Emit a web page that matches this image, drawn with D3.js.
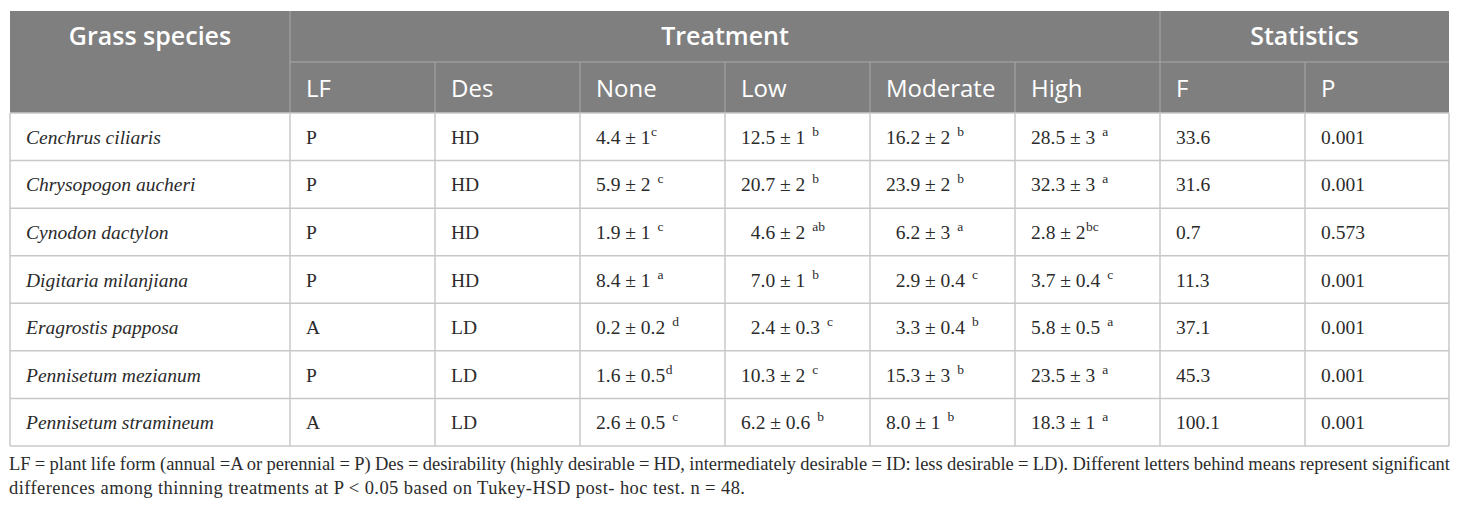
<!DOCTYPE html>
<html>
<head>
<meta charset="utf-8">
<script src="https://cdn.jsdelivr.net/npm/d3@7"></script>
<style>
  html, body { margin: 0; padding: 0; background: #fff; }
  svg { display: block; }
</style>
</head>
<body>
<div id="table"></div>
<script>
var species = ['Cenchrus ciliaris', 'Chrysopogon aucheri', 'Cynodon dactylon',
  'Digitaria milanjiana', 'Eragrostis papposa', 'Pennisetum mezianum', 'Pennisetum stramineum'];
var lifeForm = ['P', 'P', 'P', 'P', 'A', 'P', 'A'];
var desirability = ['HD', 'HD', 'HD', 'HD', 'LD', 'LD', 'LD'];

// mean ± se, and the Tukey letters (leading space kept as printed)
var noneMean = ['4.4 ± 1', '5.9 ± 2', '1.9 ± 1', '8.4 ± 1', '0.2 ± 0.2', '1.6 ± 0.5', '2.6 ± 0.5'];
var noneSig  = ['c', ' c', ' c', ' a', ' d', 'd', ' c'];
var lowMean  = ['12.5 ± 1', '20.7 ± 2', '  4.6 ± 2', '  7.0 ± 1', '  2.4 ± 0.3', '10.3 ± 2', '6.2 ± 0.6'];
var lowSig   = [' b', ' b', ' ab', ' b', ' c', ' c', ' b'];
var modMean  = ['16.2 ± 2', '23.9 ± 2', '  6.2 ± 3', '  2.9 ± 0.4', '  3.3 ± 0.4', '15.3 ± 3', '8.0 ± 1'];
var modSig   = [' b', ' b', ' a', ' c', ' b', ' b', ' b'];
var highMean = ['28.5 ± 3', '32.3 ± 3', '2.8 ± 2', '3.7 ± 0.4', '5.8 ± 0.5', '23.5 ± 3', '18.3 ± 1'];
var highSig  = [' a', ' a', 'bc', ' c', ' a', ' a', ' a'];
var fValue = ['33.6', '31.6', '0.7', '11.3', '37.1', '45.3', '100.1'];
var pValue = ['0.001', '0.001', '0.573', '0.001', '0.001', '0.001', '0.001'];

var groupHeads = ['Grass species', 'Treatment', 'Statistics'];
var subHeads = ['LF', 'Des', 'None', 'Low', 'Moderate', 'High', 'F', 'P'];

var captionLines = [
  'LF = plant life form (annual =A or perennial = P) Des = desirability (highly desirable = HD, intermediately desirable = ID: less desirable = LD). Different letters behind means represent significant',
  'differences among thinning treatments at P < 0.05 based on Tukey-HSD post- hoc test. n = 48.'
];

// ---- layout ----
var W = 1460, H = 511;
var left = 10, right = 1449;
var colEdges = [left, 290, 435, 580, 725, 870, 1015, 1160, 1305, right];
var headTop = 11, headMid = 62, headBottom = 113, tableBottom = 446;
var pad = 16;

var svg = d3.select('#table').append('svg')
  .attr('width', W).attr('height', H);

var y = d3.scaleBand()
  .domain(d3.range(species.length))
  .range([headBottom, tableBottom]);

// header background
svg.append('rect')
  .attr('x', left).attr('y', headTop)
  .attr('width', right - left).attr('height', headBottom - headTop)
  .attr('fill', '#7f7f7f');

// header separators
var headLine = '#a9a9a9';
svg.append('line')
  .attr('x1', colEdges[1]).attr('x2', right)
  .attr('y1', headMid).attr('y2', headMid)
  .attr('stroke', headLine).attr('stroke-width', 1);
[colEdges[1], colEdges[7]].forEach(function(x) {
  svg.append('line')
    .attr('x1', x).attr('x2', x).attr('y1', headTop).attr('y2', headBottom)
    .attr('stroke', headLine).attr('stroke-width', 1);
});
colEdges.slice(2, 9).filter(function(x) { return x !== colEdges[7]; }).forEach(function(x) {
  svg.append('line')
    .attr('x1', x).attr('x2', x).attr('y1', headMid).attr('y2', headBottom)
    .attr('stroke', headLine).attr('stroke-width', 1);
});

// header text
var headFont = "'Open Sans', 'Noto Sans', sans-serif";
var groupCenters = [(colEdges[0] + colEdges[1]) / 2, (colEdges[1] + colEdges[7]) / 2, (colEdges[7] + colEdges[9]) / 2];
svg.selectAll('text.group')
  .data(groupHeads)
  .enter().append('text')
    .attr('class', 'group')
    .attr('x', function(d, i) { return groupCenters[i]; })
    .attr('y', 45)
    .attr('text-anchor', 'middle')
    .attr('fill', '#fff')
    .style('font-family', headFont)
    .style('font-size', '25px')
    .style('font-weight', 600)
    .text(function(d) { return d; });

svg.selectAll('text.sub')
  .data(subHeads)
  .enter().append('text')
    .attr('class', 'sub')
    .attr('x', function(d, i) { return colEdges[i + 1] + pad; })
    .attr('y', 97)
    .attr('fill', '#fff')
    .style('font-family', headFont)
    .style('font-size', '24px')
    .text(function(d) { return d; });

// body grid
var grid = '#c8c8c8';
svg.selectAll('line.row')
  .data(d3.range(species.length + 1))
  .enter().append('line')
    .attr('class', 'row')
    .attr('x1', left).attr('x2', right)
    .attr('y1', function(i) { return i < species.length ? y(i) : tableBottom; })
    .attr('y2', function(i) { return i < species.length ? y(i) : tableBottom; })
    .attr('stroke', grid).attr('stroke-width', 1.5);
svg.selectAll('line.col')
  .data(colEdges)
  .enter().append('line')
    .attr('class', 'col')
    .attr('x1', function(d) { return d; }).attr('x2', function(d) { return d; })
    .attr('y1', headBottom).attr('y2', tableBottom)
    .attr('stroke', grid).attr('stroke-width', 1.5);

// body cells
var bodyFont = "'Liberation Serif', 'Times New Roman', serif";
var ink = '#2b2b2b';
var columns = [
  { text: species, italic: true },
  { text: lifeForm },
  { text: desirability },
  { text: noneMean, sig: noneSig },
  { text: lowMean, sig: lowSig },
  { text: modMean, sig: modSig },
  { text: highMean, sig: highSig },
  { text: fValue },
  { text: pValue }
];

columns.forEach(function(col, c) {
  var cells = svg.selectAll('text.c' + c)
    .data(col.text)
    .enter().append('text')
      .attr('class', 'c' + c)
      .attr('xml:space', 'preserve')
      .attr('x', colEdges[c] + pad)
      .attr('y', function(d, i) { return y(i) + y.bandwidth() / 2 + 7; })
      .attr('fill', ink)
      .style('font-family', bodyFont)
      .style('font-size', '19.5px')
      .style('font-style', col.italic ? 'italic' : 'normal');
  cells.append('tspan').text(function(d) { return d; });
  if (col.sig) {
    cells.append('tspan')
      .attr('dy', -8)
      .attr('dx', function(d, i) { return col.sig[i].charAt(0) === ' ' ? 7 : 0.5; })
      .style('font-size', '13.5px')
      .text(function(d, i) { return col.sig[i].trim(); });
  }
});

// caption: first line justified to the table width, second one spread by letters
var capFont = "'Liberation Serif', 'Times New Roman', serif";
var capWidths = [1441, 736];
svg.selectAll('text.cap')
  .data(captionLines)
  .enter().append('text')
    .attr('class', 'cap')
    .attr('x', 9)
    .attr('y', function(d, i) { return 470 + i * 24; })
    .attr('fill', ink)
    .style('font-family', capFont)
    .style('font-size', '18.5px')
    .text(function(d) { return d; })
    .each(function(d, i) {
      var natural = this.getComputedTextLength();
      var spare = capWidths[i] - natural;
      if (i === 0) {
        d3.select(this).style('word-spacing', (spare / (d.split(' ').length - 1)) + 'px');
      } else {
        d3.select(this).style('letter-spacing', (spare / (d.length - 1)) + 'px');
      }
    });
</script>
</body>
</html>
